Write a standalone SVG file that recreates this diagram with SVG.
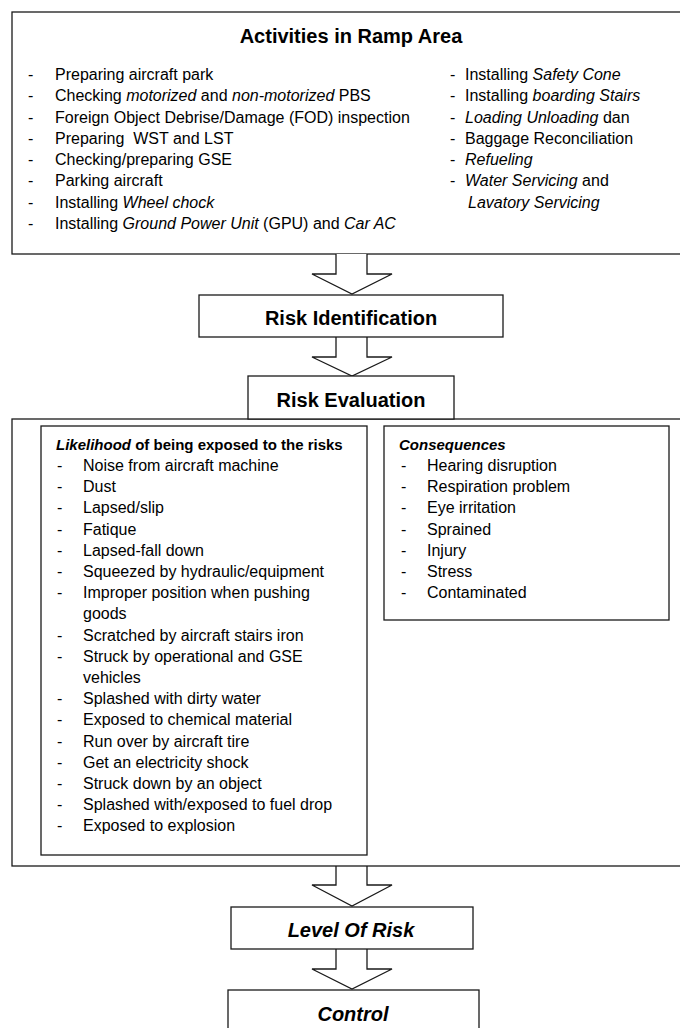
<svg xmlns="http://www.w3.org/2000/svg" width="680" height="1028" viewBox="0 0 680 1028">
<style>
.box{fill:#fff;stroke:#1a1a1a;stroke-width:1.3}
.arrow{fill:#fff;stroke:#1a1a1a;stroke-width:1.3;stroke-linejoin:miter}
text{font-family:"Liberation Sans",Arial,sans-serif;fill:#000}
.title{font-size:20px;font-weight:bold}
.head{font-size:15px;font-weight:bold}
.item{font-size:16px}
.i{font-style:italic}
.mid{text-anchor:middle}
</style>
<rect width="680" height="1028" fill="#fff"/>
<g id="activities">
<rect class="box" x="12" y="12" width="680" height="242"/>
<text class="title mid" x="351" y="43">Activities in Ramp Area</text>
<g class="item">
<text x="28" y="80">-</text><text x="55" y="80">Preparing aircraft park</text>
<text x="28" y="101.3">-</text><text x="55" y="101.3">Checking <tspan class="i">motorized</tspan> and <tspan class="i">non-motorized</tspan> PBS</text>
<text x="28" y="122.5">-</text><text x="55" y="122.5">Foreign Object Debrise/Damage (FOD) inspection</text>
<text x="28" y="143.8">-</text><text x="55" y="143.8" xml:space="preserve">Preparing  WST and LST</text>
<text x="28" y="165">-</text><text x="55" y="165">Checking/preparing GSE</text>
<text x="28" y="186.3">-</text><text x="55" y="186.3">Parking aircraft</text>
<text x="28" y="207.5">-</text><text x="55" y="207.5">Installing <tspan class="i">Wheel chock</tspan></text>
<text x="28" y="228.8">-</text><text x="55" y="228.8">Installing <tspan class="i">Ground Power Unit</tspan> (GPU) and <tspan class="i">Car AC</tspan></text>
<text x="450" y="80">-</text><text x="465" y="80">Installing <tspan class="i">Safety Cone</tspan></text>
<text x="450" y="101.3">-</text><text x="465" y="101.3">Installing <tspan class="i">boarding Stairs</tspan></text>
<text x="450" y="122.5">-</text><text x="465" y="122.5"><tspan class="i">Loading Unloading</tspan> dan</text>
<text x="450" y="143.8">-</text><text x="465" y="143.8">Baggage Reconciliation</text>
<text x="450" y="165">-</text><text x="465" y="165" class="i">Refueling</text>
<text x="450" y="186.3">-</text><text x="465" y="186.3"><tspan class="i">Water Servicing</tspan> and</text>
<text x="468" y="207.5" class="i">Lavatory Servicing</text>
</g>
</g>
<g id="connectors">
<path class="arrow" d="M336,254 V274 H312 L352,294 L392,274 H367 V254"/>
<path class="arrow" d="M336,337 V357 H312 L352,376 L392,357 H367 V337"/>
<path class="arrow" d="M336,866 V885 H312 L352,906 L392,885 H367 V866"/>
<path class="arrow" d="M336,949 V969 H312 L352,989 L392,969 H367 V949"/>
</g>
<g id="risk-identification">
<rect class="box" x="199" y="295" width="304" height="42"/>
<text class="title mid" x="351" y="325">Risk Identification</text>
</g>
<g id="evaluation-area">
<rect class="box" x="12" y="419" width="680" height="447"/>
</g>
<g id="risk-evaluation">
<rect class="box" x="248" y="376" width="206" height="43"/>
<text class="title mid" x="351" y="407">Risk Evaluation</text>
</g>
<g id="likelihood">
<rect class="box" x="41" y="426" width="326" height="429"/>
<text class="head" x="56" y="449.5"><tspan class="i">Likelihood</tspan> of being exposed to the risks</text>
<g class="item">
<text x="57" y="471">-</text><text x="83" y="471">Noise from aircraft machine</text>
<text x="57" y="492.2">-</text><text x="83" y="492.2">Dust</text>
<text x="57" y="513.4">-</text><text x="83" y="513.4">Lapsed/slip</text>
<text x="57" y="534.6">-</text><text x="83" y="534.6">Fatique</text>
<text x="57" y="555.8">-</text><text x="83" y="555.8">Lapsed-fall down</text>
<text x="57" y="577">-</text><text x="83" y="577">Squeezed by hydraulic/equipment</text>
<text x="57" y="598.2">-</text><text x="83" y="598.2">Improper position when pushing</text>
<text x="83" y="619.4">goods</text>
<text x="57" y="640.6">-</text><text x="83" y="640.6">Scratched by aircraft stairs iron</text>
<text x="57" y="661.8">-</text><text x="83" y="661.8">Struck by operational and GSE</text>
<text x="83" y="683">vehicles</text>
<text x="57" y="704.2">-</text><text x="83" y="704.2">Splashed with dirty water</text>
<text x="57" y="725.4">-</text><text x="83" y="725.4">Exposed to chemical material</text>
<text x="57" y="746.6">-</text><text x="83" y="746.6">Run over by aircraft tire</text>
<text x="57" y="767.8">-</text><text x="83" y="767.8">Get an electricity shock</text>
<text x="57" y="789">-</text><text x="83" y="789">Struck down by an object</text>
<text x="57" y="810.2">-</text><text x="83" y="810.2">Splashed with/exposed to fuel drop</text>
<text x="57" y="831.4">-</text><text x="83" y="831.4">Exposed to explosion</text>
</g>
</g>
<g id="consequences">
<rect class="box" x="384" y="426" width="285" height="194"/>
<text class="head i" x="399" y="449.5">Consequences</text>
<g class="item">
<text x="401" y="471">-</text><text x="427" y="471">Hearing disruption</text>
<text x="401" y="492.2">-</text><text x="427" y="492.2">Respiration problem</text>
<text x="401" y="513.4">-</text><text x="427" y="513.4">Eye irritation</text>
<text x="401" y="534.6">-</text><text x="427" y="534.6">Sprained</text>
<text x="401" y="555.8">-</text><text x="427" y="555.8">Injury</text>
<text x="401" y="577">-</text><text x="427" y="577">Stress</text>
<text x="401" y="598.2">-</text><text x="427" y="598.2">Contaminated</text>
</g>
</g>
<g id="level-of-risk">
<rect class="box" x="231" y="907" width="242" height="42"/>
<text class="title i mid" x="351" y="937">Level Of Risk</text>
</g>
<g id="control">
<rect class="box" x="228" y="990" width="251" height="60"/>
<text class="title i mid" x="353" y="1021">Control</text>
</g>
</svg>
